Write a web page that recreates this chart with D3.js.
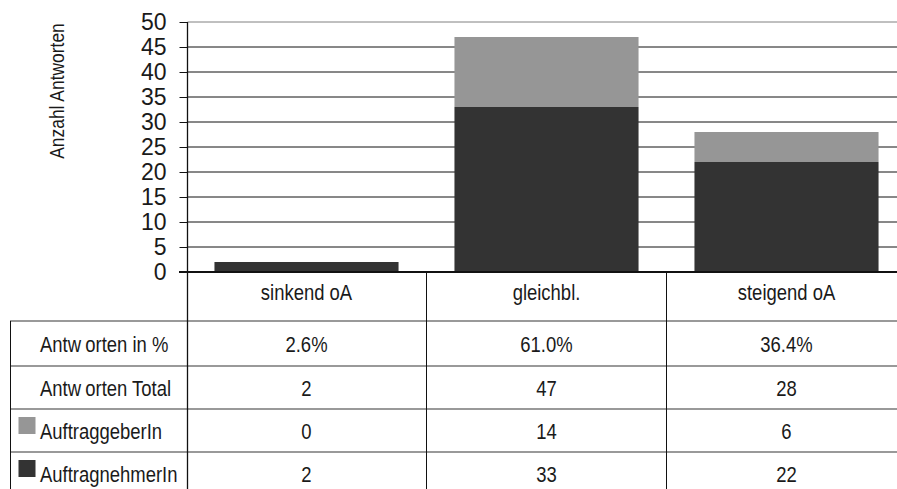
<!DOCTYPE html>
<html>
<head>
    <script src="https://d3js.org/d3.v7.min.js"></script>
    <style>
        body { margin: 0; background: #fff; }
        text { font-family: "Liberation Sans", Arial, sans-serif; fill: #1a1a1a; }
    </style>
</head>
<body>
    <svg id="chart" width="897" height="489"></svg>

    <script>
        var categories = ["sinkend oA", "gleichbl.", "steigend oA"];
        var auftraggeber = [0, 14, 6];
        var auftragnehmer = [2, 33, 22];
        var percentLabels = ["2.6%", "61.0%", "36.4%"];
        var totals = [2, 47, 28];
        var yTicks = [0, 5, 10, 15, 20, 25, 30, 35, 40, 45, 50];

        var colorNehmer = "#333333", colorGeber = "#969696";
        var narrow = 0.84;

        var svg = d3.select("#chart");
        var xScale = d3.scaleBand().domain(categories).range([186.5, 906.5]).paddingInner(0.233).paddingOuter(0.1165);
        var yScale = d3.scaleLinear().domain([0, 50]).range([272, 22]);
        var step = xScale.step();

        // gridlines
        svg.append("g").selectAll("line").data(yTicks).enter().append("line")
            .attr("x1", 187.5).attr("x2", 897)
            .attr("y1", d => yScale(d)).attr("y2", d => yScale(d))
            .attr("stroke", d => d == 50 ? "#808080" : "#111").attr("stroke-width", 1);

        // stacked bars
        var rows = categories.map((c, i) => ({cat: c, nehmer: auftragnehmer[i], geber: auftraggeber[i]}));
        var stack = d3.stack().keys(["nehmer", "geber"])(rows);
        var colors = {nehmer: colorNehmer, geber: colorGeber};
        svg.append("g").selectAll("g").data(stack).enter().append("g")
            .attr("fill", d => colors[d.key])
            .selectAll("rect").data(d => d).enter().append("rect")
            .attr("x", d => xScale(d.data.cat))
            .attr("width", xScale.bandwidth())
            .attr("y", d => yScale(d[1]))
            .attr("height", d => yScale(d[0]) - yScale(d[1]));

        // y axis
        var yAxis = svg.append("g").attr("transform", "translate(187.5,0)")
            .call(d3.axisLeft(yScale).tickValues(yTicks).tickSize(8).tickPadding(13).tickFormat(d3.format("d")));
        yAxis.select(".domain").remove();
        yAxis.selectAll(".tick line").attr("stroke", "#111");
        yAxis.selectAll(".tick text").style("font-size", "23px").style("font-family", "Liberation Sans, Arial, sans-serif").attr("fill", "#111");

        svg.append("text").attr("text-anchor", "middle")
            .attr("transform", "translate(64,91) rotate(-90) scale(0.85,1)")
            .style("font-size", "20.5px").text("Anzahl Antworten");

        // data table
        var headerTop = 272, headerBottom = 321;
        var rowLines = [321, 366, 409, 452, 495];
        var tableRows = [
            {label: ["Antw", "orten in %"], values: percentLabels},
            {label: ["Antw", "orten Total"], values: totals},
            {label: ["AuftraggeberIn"], values: auftraggeber, key: colorGeber},
            {label: ["AuftragnehmerIn"], values: auftragnehmer, key: colorNehmer}
        ];

        var table = svg.append("g");
        rowLines.slice(0, 4).forEach(function (y) {
            table.append("line").attr("x1", 10).attr("x2", 897).attr("y1", y).attr("y2", y)
                .attr("stroke", "#777").attr("stroke-width", 1.5);
        });
        table.append("line").attr("x1", 10.5).attr("x2", 10.5).attr("y1", headerBottom).attr("y2", 489).attr("stroke", "#111");
        table.append("line").attr("x1", 187.5).attr("x2", 187.5).attr("y1", 22).attr("y2", 489).attr("stroke", "#111").attr("stroke-width", 1.3);
        categories.slice(1).forEach(function (c) {
            var x = xScale(c) - (step - xScale.bandwidth()) / 2;
            table.append("line").attr("x1", x).attr("x2", x).attr("y1", headerTop).attr("y2", 489).attr("stroke", "#111");
        });
        // zero line
        table.append("line").attr("x1", 179).attr("x2", 897).attr("y1", yScale(0)).attr("y2", yScale(0))
            .attr("stroke", "#111").attr("stroke-width", 2);

        function cellText(x, y, anchor) {
            return table.append("text").attr("text-anchor", anchor)
                .attr("transform", `translate(${x},${y}) scale(${narrow},1)`)
                .style("font-size", "22px");
        }

        categories.forEach(function (c) {
            cellText(xScale(c) + xScale.bandwidth() / 2, 300, "middle").text(c);
        });

        tableRows.forEach(function (r, i) {
            var top = rowLines[i], bottom = rowLines[i + 1];
            var mid = (top + bottom) / 2;
            var base = mid + 8;
            var t = cellText(40, base, "start");
            t.append("tspan").text(r.label[0]);
            if (r.label[1]) t.append("tspan").attr("dx", 5).text(r.label[1]);
            if (r.key) {
                table.append("rect").attr("x", 18.5).attr("y", mid - 13.5).attr("width", 17).attr("height", 17).attr("fill", r.key);
            }
            r.values.forEach(function (v, j) {
                cellText(xScale(categories[j]) + xScale.bandwidth() / 2, base, "middle").text(v);
            });
        });
    </script>
</body>
</html>
